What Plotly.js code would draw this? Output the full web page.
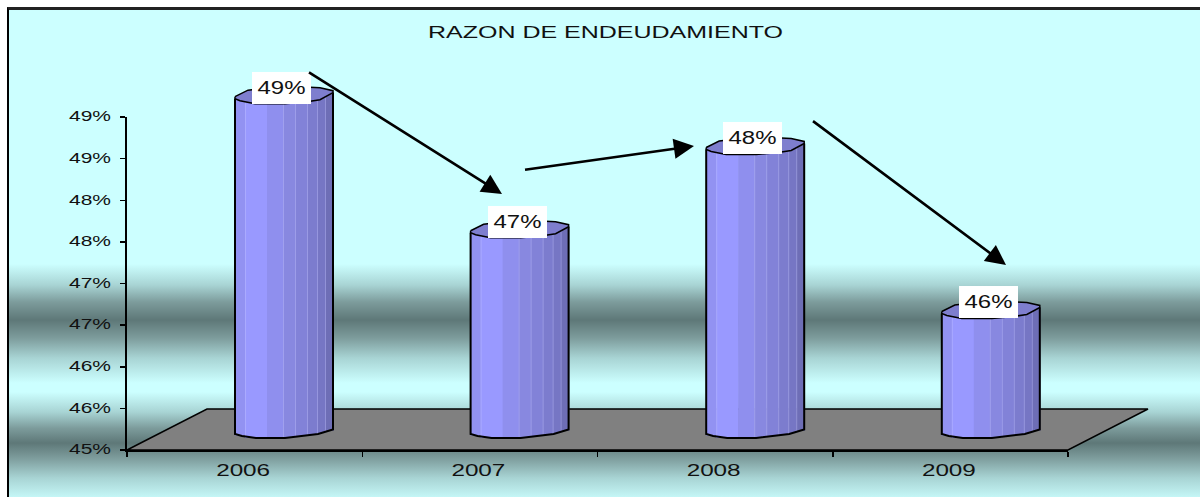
<!DOCTYPE html>
<html><head><meta charset="utf-8">
<script src="https://cdn.plot.ly/plotly-3.0.1.min.js"></script>
<style>
html,body{margin:0;padding:0;background:#fff;width:1200px;height:497px;overflow:hidden}
#bg{position:absolute;left:7px;top:7px;width:1193px;height:490px;box-sizing:border-box;border-left:2px solid #000;border-top:3px solid #222;
background:linear-gradient(to bottom,#CCFFFF 0px,#CCFFFF 254px,#A8D4D4 275px,#7D9C9C 292px,#5E7878 310px,#7D9C9C 328px,#A8D4D4 348px,#CCFFFF 373px,#CCFFFF 382px,#A8D4D4 402px,#7D9C9C 418px,#5E7878 433px,#7D9C9C 448px,#A8D4D4 468px,#C4F6F6 487px)}
#chart{position:absolute;left:0;top:0;width:1200px;height:497px}
</style></head><body><div id="bg"></div><div id="chart"></div>
<script>
const categories=['2006','2007','2008','2009'];
const ratios=[49.07,47.46,48.46,46.49];
const yTickVals=[45,45.5,46,46.5,47,47.5,48,48.5,49];
const yTickLabels=['45%','46%','46%','47%','47%','48%','48%','49%','49%'];
const titleText='RAZON DE ENDEUDAMIENTO';
const stripEdges=[0,10,32,48,60,72,82,90,98];
const stripColors=['#9292F2','#9999FF','#8F8FEE','#8888E0','#8282D8','#7C7CCE','#7676C4','#6E6EB6'];
const lightLines=[10,48,60,72,82,90];
const W=1200,H=497,pxU=83.25,pxC=235.6;
const frontCurve=[[0,4.5],[7,6.5],[21,8.5],[50,8.5],[83,4.5],[98,0]];
const capShape=[[0,6],[0,8],[5,10],[20,13],[50,13],[72,11],[85,9],[93,5],[98,2],[98,0],[85,-3],[65,-4],[30,-2.5],[13,-0.5],[3,4],[0,6]];
const idx=categories.map((_,i)=>i);
const fx=d=>{for(let i=1;i<frontCurve.length;i++){const a=frontCurve[i-1],b=frontCurve[i];if(d<=b[0])return a[1]+(b[1]-a[1])*(d-a[0])/(b[0]-a[0]);}return 0;};
const X0=284,Y0=429.5;
const dx=d=>(d-49)/pxC; const dy=d=>-d/pxU;
const traces=[];
traces.push({type:'scatter',x:categories,y:categories.map(()=>45),mode:'none',xaxis:'x',yaxis:'y',hoverinfo:'skip',showlegend:false});
const floorPx=[[127,450],[207,409],[1148,409],[1068,450],[127,450]];
traces.push({type:'scatter',mode:'lines',xaxis:'x2',yaxis:'y2',fill:'toself',fillcolor:'#808080',line:{color:'#000',width:1.5},
 x:floorPx.map(p=>(p[0]-X0)/pxC),y:floorPx.map(p=>45+(Y0-p[1])/pxU),hoverinfo:'skip',showlegend:false});
stripColors.forEach((c,k)=>{
 const a=stripEdges[k],b=stripEdges[k+1],m=(a+b)/2,f=fx(m);
 traces.push({type:'bar',x:idx,y:ratios.map(v=>v-45),base:idx.map(()=>45+dy(f)),offset:dx(a),width:(b-a+0.6)/pxC,
  marker:{color:c,line:{width:0}},xaxis:'x3',yaxis:'y3',hoverinfo:'skip',showlegend:false});
});
lightLines.forEach(d=>{
 traces.push({type:'bar',x:idx,y:ratios.map(v=>v-45),base:idx.map(()=>45+dy(fx(d))),offset:dx(d),width:1/pxC,
  marker:{color:'rgba(190,190,255,0.45)',line:{width:0}},xaxis:'x3',yaxis:'y3',hoverinfo:'skip',showlegend:false});
});
const ox=[],oy=[];
ratios.forEach((v,i)=>{
 ox.push(i+dx(0),...frontCurve.map(p=>i+dx(p[0])),i+dx(98),null);
 oy.push(v+dy(8),...frontCurve.map(p=>45+dy(p[1])),v+dy(2),null);
});
traces.push({type:'scatter',mode:'lines',x:ox,y:oy,line:{color:'#000',width:2},xaxis:'x3',yaxis:'y3',hoverinfo:'skip',showlegend:false});
ratios.forEach((v,i)=>{
 traces.push({type:'scatter',mode:'lines',fill:'toself',fillcolor:'#7E7ECE',line:{color:'#000',width:1.5},
  x:capShape.map(p=>i+dx(p[0])),y:capShape.map(p=>v+dy(p[1])),xaxis:'x3',yaxis:'y3',hoverinfo:'skip',showlegend:false});
});
const F='"Liberation Sans",Arial,sans-serif';
const anns=ratios.map((v,i)=>({xref:'x3',yref:'y3',x:i,y:v,xshift:-2.5,yshift:3,text:Math.round(v)+'%',showarrow:false,
 bgcolor:'#fff',width:59,height:32,borderpad:0,borderwidth:0,font:{family:F,size:18,color:'#111'},align:'center',valign:'middle'}));
const arrowsPx=[[307.5,71.5,502,194],[523.5,170,694,146],[811.5,120,1006,265]];
arrowsPx.forEach(a=>anns.push({xref:'paper',yref:'paper',x:a[2]/W,y:1-a[3]/H,ax:a[0]-a[2],ay:a[1]-a[3],axref:'pixel',ayref:'pixel',text:'',showarrow:true,
 arrowhead:2,arrowsize:1.55,arrowwidth:2.6,arrowcolor:'#000',standoff:0,startstandoff:0}));
const overlayX={domain:[0,1],range:[-X0/pxC,(W-X0)/pxC],visible:false};
const overlayY={domain:[0,1],range:[45-(H-Y0)/pxU,45+Y0/pxU],visible:false};
const layout={width:W,height:H,margin:{l:0,r:0,t:0,b:0},paper_bgcolor:'rgba(0,0,0,0)',plot_bgcolor:'rgba(0,0,0,0)',showlegend:false,barmode:'overlay',
 title:{text:titleText,x:605.5/W,xanchor:'center',y:1-32/H,yanchor:'middle',font:{family:F,size:17,color:'#111'}},
 xaxis:{type:'category',categoryorder:'array',categoryarray:categories,domain:[127/W,1068/W],range:[-0.5,3.5],tickson:'boundaries',ticks:'outside',ticklen:5,tickwidth:1.5,tickcolor:'#000',
  showline:true,linecolor:'#000',linewidth:2,showgrid:false,zeroline:false,anchor:'y',tickfont:{family:F,size:17,color:'#111'},ticklabelstandoff:4},
 yaxis:{domain:[(H-450)/H,(H-117)/H],range:[45,49],tickmode:'array',tickvals:yTickVals,ticktext:yTickLabels,ticks:'outside',ticklen:5,tickwidth:1.5,tickcolor:'#000',
  showline:true,linecolor:'#000',linewidth:2,showgrid:false,zeroline:false,anchor:'x',tickfont:{family:F,size:15,color:'#111'},ticklabelstandoff:6},
 xaxis2:{...overlayX,anchor:'y2'},yaxis2:{...overlayY,anchor:'x2'},
 xaxis3:{...overlayX,anchor:'y3'},yaxis3:{...overlayY,anchor:'x3'},
 annotations:anns};
Plotly.newPlot('chart',traces,layout,{displayModeBar:false,staticPlot:true}).then(gd=>{
 // the source picture's lettering is stretched sideways; keep real text, widen it to the same run lengths
 const fit=(sel,w,ox,oy)=>gd.querySelectorAll(sel).forEach(t=>{t.setAttribute('textLength',w);t.setAttribute('lengthAdjust','spacingAndGlyphs');
  if(ox)t.setAttribute('dx',ox);if(oy)t.setAttribute('dy',oy);});
 fit('.gtitle',355);fit('.xtick text',54,-1.5,0);fit('.ytick text',42,0,-1);fit('.annotation-text',48);
});
</script></body></html>
